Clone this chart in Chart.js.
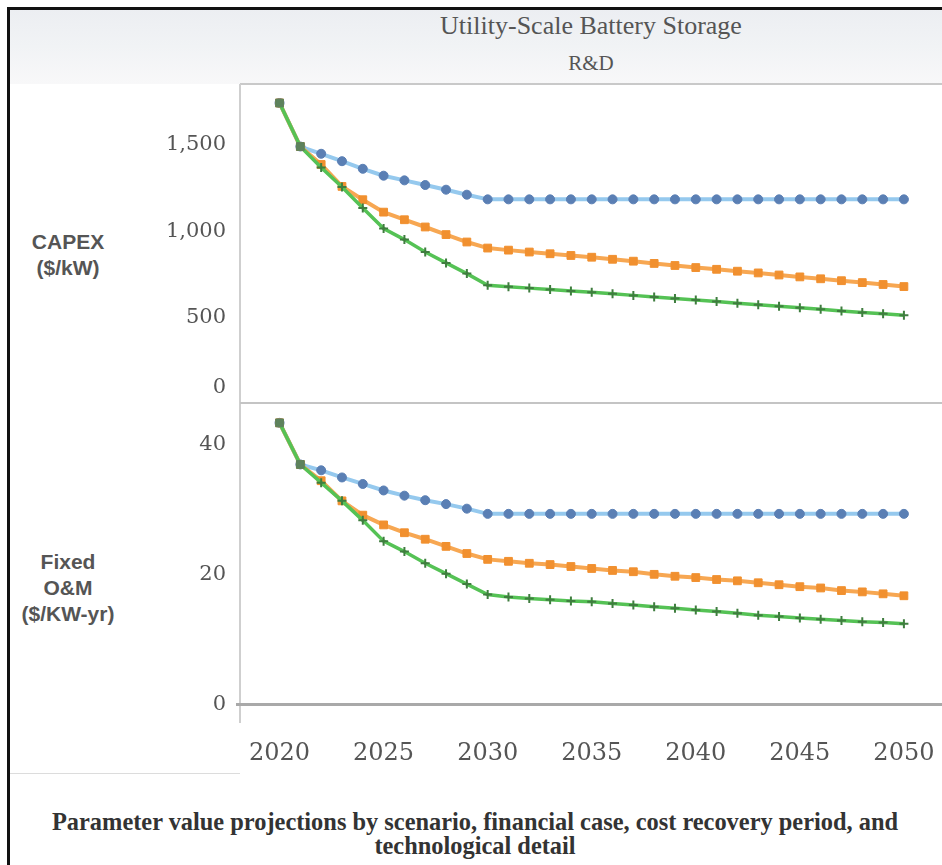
<!DOCTYPE html>
<html><head><meta charset="utf-8">
<script src="https://cdn.jsdelivr.net/npm/chart.js@4.4.1/dist/chart.umd.min.js"></script>
<style>
html,body{margin:0;padding:0;background:#fff;}
body{width:942px;height:865px;overflow:hidden;position:relative;}
.abs{position:absolute;}
#band{left:10px;top:9px;width:932px;height:75px;background:linear-gradient(to bottom,#eceef2 0%,#f1f3f5 50%,#f8f8f9 100%);}
#btop{left:7px;top:7px;width:935px;height:3px;background:#111;}
#bleft{left:7px;top:7px;width:3px;height:858px;background:#111;}
#title{left:240px;top:11px;width:702px;text-align:center;font:26px "Liberation Serif",serif;color:#555;line-height:30px;}
#subtitle{left:240px;top:51px;width:702px;text-align:center;font:21px "Liberation Serif",serif;color:#555;line-height:24px;}
#ltop{left:240px;top:83px;width:702px;height:2px;background:#c9c9c9;}
#lleft{left:239px;top:84px;width:2px;height:639px;background:#cfcfcf;}
#ldiv{left:240px;top:402px;width:702px;height:2px;background:#c4c4c4;}
#lzero{left:236px;top:703px;width:706px;height:3px;background:#a9a9a9;}
#lunder{left:10px;top:773px;width:230px;height:1px;background:#dcdcdc;}
.ytitle{left:8px;width:120px;text-align:center;font:bold 21px "Liberation Sans",Arial,sans-serif;color:#555;line-height:26px;}
#yt1{top:229px;}
#yt2{top:549px;}
#c1wrap{left:0;top:84px;}
#c2wrap{left:0;top:404px;}
#caption{left:10px;top:810px;width:930px;text-align:center;font:bold 24.4px "Liberation Serif",serif;color:#333;line-height:24px;}
</style></head>
<body>
<div class="abs" id="band"></div>
<div class="abs" id="btop"></div>
<div class="abs" id="bleft"></div>
<div class="abs" id="title">Utility-Scale Battery Storage</div>
<div class="abs" id="subtitle">R&amp;D</div>
<div class="abs" id="ltop"></div>
<div class="abs" id="lleft"></div>
<div class="abs" id="ldiv"></div>
<div class="abs" id="lzero"></div>
<div class="abs" id="lunder"></div>
<div class="abs ytitle" id="yt1">CAPEX<br>($/kW)</div>
<div class="abs ytitle" id="yt2">Fixed<br>O&amp;M<br>($/KW-yr)</div>
<div class="abs" id="c1wrap"><canvas id="c1" width="942" height="320"></canvas></div>
<div class="abs" id="c2wrap"><canvas id="c2" width="942" height="381"></canvas></div>
<div class="abs" id="caption">Parameter value projections by scenario, financial case, cost recovery period, and<br>technological detail</div>
<script>
// ---- data ----
const years = [2020,2021,2022,2023,2024,2025,2026,2027,2028,2029,2030,2031,2032,2033,2034,2035,2036,2037,2038,2039,2040,2041,2042,2043,2044,2045,2046,2047,2048,2049,2050];
const xTicks = [2020,2025,2030,2035,2040,2045,2050];
const capexTicks = [0,500,1000,1500];
const omTicks = [0,20,40];

const capexConservative = [1743,1491,1449,1406,1362,1322,1295,1268,1241,1212,1185,1185,1185,1185,1185,1185,1185,1185,1185,1185,1185,1185,1185,1185,1185,1185,1185,1185,1185,1185,1185];
const capexModerate = [1743,1491,1387,1260,1183,1111,1067,1025,981,938,903,891,880,870,860,850,838,827,814,802,790,780,769,759,747,736,725,714,703,692,680];
const capexAdvanced = [1743,1491,1370,1256,1135,1016,952,880,817,755,688,679,671,663,655,647,638,629,620,611,602,594,584,575,566,557,548,539,530,522,514];

const omConservative = [43.4,37.0,36.1,35.0,34.0,33.0,32.2,31.5,30.9,30.2,29.4,29.4,29.4,29.4,29.4,29.4,29.4,29.4,29.4,29.4,29.4,29.4,29.4,29.4,29.4,29.4,29.4,29.4,29.4,29.4,29.4];
const omModerate = [43.4,37.0,34.5,31.4,29.2,27.7,26.5,25.5,24.4,23.3,22.4,22.1,21.8,21.6,21.3,21.0,20.7,20.5,20.1,19.8,19.6,19.3,19.1,18.8,18.5,18.2,18.0,17.6,17.4,17.1,16.8];
const omAdvanced = [43.4,37.0,34.2,31.4,28.4,25.2,23.6,21.8,20.2,18.6,17.0,16.6,16.4,16.2,16.0,15.9,15.6,15.4,15.1,14.9,14.6,14.4,14.1,13.8,13.6,13.4,13.2,13.0,12.8,12.7,12.5];

// ---- styling helpers ----
const sharedColor = '#5d825d';
function series(values, kind) {
  const pts = years.map((y,i)=>({x:y, y:values[i]}));
  if (kind === 'adv') {
    return {data:pts, borderColor:'#55c255', borderWidth:3.5, tension:0,
      pointStyle:c=>c.dataIndex<2?'rect':'cross',
      pointRadius:c=>c.dataIndex<2?5.5:4.5,
      pointBorderWidth:c=>c.dataIndex<2?1:2,
      pointBackgroundColor:c=>c.dataIndex<2?sharedColor:'#3f7d3f',
      pointBorderColor:c=>c.dataIndex<2?sharedColor:'#3f7d3f'};
  }
  if (kind === 'mod') {
    return {data:pts, borderColor:'#f7a752', borderWidth:4, tension:0,
      pointStyle:'rect', pointRadius:5.5, pointBorderWidth:1,
      pointBackgroundColor:'#f1902f', pointBorderColor:'#f1902f'};
  }
  return {data:pts, borderColor:'#95c9ee', borderWidth:4, tension:0,
    pointStyle:'circle', pointRadius:4.5, pointBorderWidth:1,
    pointBackgroundColor:'#5a7fb4', pointBorderColor:'#5a7fb4'};
}

const xScale = (show, h) => ({
  type:'linear', min:2018.1, max:2051.83, display:show,
  afterBuildTicks:s=>{ s.ticks = xTicks.map(v=>({value:v})); },
  afterFit:s=>{ s.paddingLeft = 0; s.paddingRight = 0; if (h) s.height = h; },
  grid:{display:false, drawTicks:false}, border:{display:false},
  ticks:{padding:34, color:'#555', font:{family:'"DejaVu Serif", serif', size:24}, maxRotation:0, autoSkip:false,
    callback:v=>String(v)}
});
const yScale = (max, tickArr, top) => ({
  type:'linear', min:0, max:max,
  afterBuildTicks:s=>{ s.ticks = tickArr.map(v=>({value:v})); },
  afterFit:s=>{ s.width = 240; s.paddingTop = 0; s.paddingBottom = 0; },
  grid:{display:false, drawTicks:false}, border:{display:false},
  ticks:{padding:14, color:'#555', font:{family:'"DejaVu Serif", serif', size:21, lineHeight:1.6},
    callback:v=> (top && v===0) ? ['0',''] : Number(v).toLocaleString('en-US')}
});
const common = {
  responsive:false, animation:false, events:[],
  plugins:{legend:{display:false}, tooltip:{enabled:false}, title:{display:false}},
  layout:{padding:0, autoPadding:false}
};

new Chart(document.getElementById('c1'), {
  type:'line',
  data:{datasets:[series(capexAdvanced,'adv'), series(capexModerate,'mod'), series(capexConservative,'con')]},
  options:Object.assign({}, common, {
    scales:{ x:xScale(false), y:yScale(1853, capexTicks, true) }
  })
});

new Chart(document.getElementById('c2'), {
  type:'line',
  data:{datasets:[series(omAdvanced,'adv'), series(omModerate,'mod'), series(omConservative,'con')]},
  options:Object.assign({}, common, {
    scales:{ x:xScale(true, 80), y:yScale(46.3, omTicks, false) }
  })
});
</script>
</body></html>
